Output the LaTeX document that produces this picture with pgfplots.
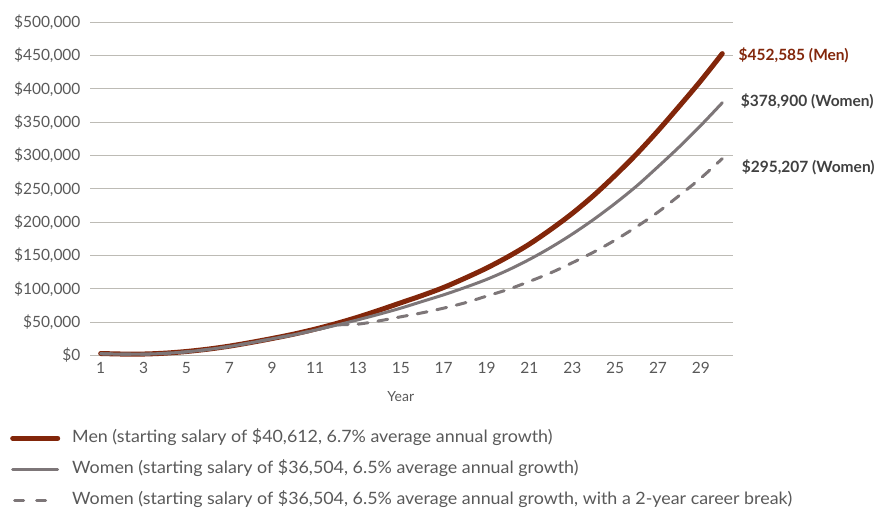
\documentclass[border=0pt]{standalone}
\usepackage{pgfplots}
\pgfplotsset{compat=1.18}
\usepackage{fontspec}
\setmainfont{Lato}
\newfontfamily\legfont[FakeStretch=1.05]{Lato}
\definecolor{menc}{HTML}{82260A}
\definecolor{womc}{HTML}{7D7678}
\definecolor{tickc}{HTML}{595959}
\definecolor{labc}{HTML}{404040}
\definecolor{gridc}{HTML}{BDBBB5}
\pgfplotsset{dashleg/.style={legend image code/.code={\draw[##1, dash pattern=on 9bp off 13bp] (2bp,0bp) -- (45bp,0bp);}}}
\pgfplotstableread{
year men women brk
1 3000 2700 2700
2 2200 2000 2000
3 2200 2000 2000
4 3500 3200 3200
5 6000 5500 5500
6 9500 9000 9000
7 14000 13500 13500
8 19500 19000 19000
9 25500 25000 25000
10 32000 31000 31000
11 39500 38000 38000
12 48000 45500 45500
13 57500 53500 47000
14 68000 62000 52000
15 79000 71000 58000
16 90000 81000 64000
17 102000 91000 71000
18 116000 102000 79000
19 131000 114000 89000
20 148000 128000 99000
21 167000 144000 111000
22 189000 162000 124000
23 213000 182000 139000
24 240000 204000 155000
25 270000 228000 173000
26 302000 254000 193000
27 337000 283000 215000
28 374000 313000 240000
29 412000 345000 266000
30 452585 378900 295207
}\datatable
\begin{document}
\begin{tikzpicture}
\useasboundingbox (0,0) rectangle (882bp,510bp);
\begin{axis}[
  at={(90bp,154.5bp)}, anchor=south west,
  scale only axis, width=643bp, height=333.5bp,
  xmin=0.5, xmax=30.5, ymin=0, ymax=500000,
  clip=false,
  axis line style={draw=none},
  major tick length=0pt,
  ymajorgrids, grid style={gridc, line width=0.9bp},
  ytick={0,50000,...,500000},
  yticklabels={{\$0},{\$50,000},{\$100,000},{\$150,000},{\$200,000},{\$250,000},{\$300,000},{\$350,000},{\$400,000},{\$450,000},{\$500,000}},
  xtick={1,3,...,29},
  xticklabels={1,3,5,7,9,11,13,15,17,19,21,23,25,27,29},
  ticklabel style={font=\fontsize{15.5bp}{17bp}\selectfont, text=tickc},
  yticklabel style={xshift=-6bp},
  xticklabel style={yshift=-3bp},
  scaled y ticks=false,
  legend style={draw=none, fill=none, at={(rel axis cs:-0.1244,-0.222)}, anchor=north west,
    font=\legfont\fontsize{17bp}{19bp}\selectfont, text=tickc,
    nodes={inner sep=0pt, text height=12.5bp, text depth=4.5bp, anchor=west},
    column sep=12bp, row sep=14bp, inner sep=0pt},
  legend cell align=left,
  legend image code/.code={\draw[#1] (0bp,0bp) -- (45bp,0bp);},
]
\addplot[menc, line width=5bp, smooth, line cap=round] table[x=year, y=men] {\datatable};
\addlegendentry{Men (starting salary of \$40,612, 6.7\% average annual growth)}
\addplot[womc, line width=3bp, smooth, line cap=round] table[x=year, y=women] {\datatable};
\addlegendentry{Women (starting salary of \$36,504, 6.5\% average annual growth)}
\addplot[womc, line width=3bp, smooth, line cap=round, dash pattern=on 10bp off 10bp, dashleg] table[x=year, y=brk] {\datatable};
\addlegendentry{Women (starting salary of \$36,504, 6.5\% average annual growth, with a 2-year career break)}
\node[anchor=west, font=\bfseries\fontsize{15.5bp}{17bp}\selectfont, text=menc] at (axis cs:30.6,450600) {\$452,585 (Men)};
\node[anchor=west, font=\bfseries\fontsize{15.5bp}{17bp}\selectfont, text=labc] at (axis cs:30.7,381600) {\$378,900 (Women)};
\node[anchor=west, font=\bfseries\fontsize{15.5bp}{17bp}\selectfont, text=labc] at (axis cs:30.75,282600) {\$295,207 (Women)};
\node[font=\fontsize{14bp}{16bp}\selectfont, text=tickc] at (axis cs:15,0) [yshift=-41bp] {Year};
\end{axis}
\end{tikzpicture}
\end{document}
